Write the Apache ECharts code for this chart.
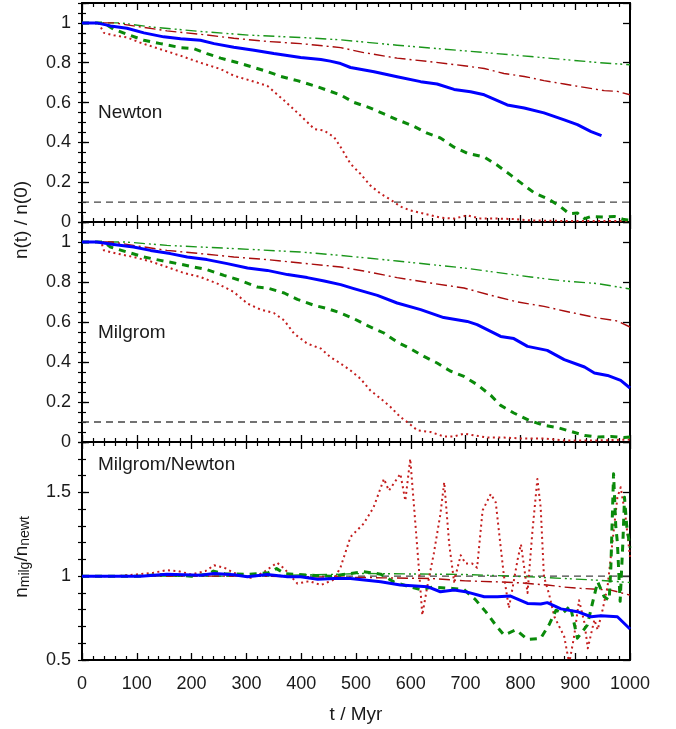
<!DOCTYPE html>
<html>
<head>
<meta charset="utf-8">
<script src="https://cdn.jsdelivr.net/npm/echarts@6/dist/echarts.min.js"></script>
<style>
html,body{margin:0;padding:0;background:#fff;}
#chart{width:676px;height:729px;}
</style>
</head>
<body>
<div id="chart"></div>
<script>
// ---------- Data (t in Myr, value) ----------
const xTicks = [0, 100, 200, 300, 400, 500, 600, 700, 800, 900, 1000];
const panelLabels = ['Newton', 'Milgrom', 'Milgrom/Newton'];
const refLevels = [0.1, 0.1, 1.0];

// Panel 1: Newton, n(t)/n(0)
const newtBlue = [[0,1],[27,1],[52,0.985],[82,0.973],[113,0.95],[149,0.93],[180,0.92],[216,0.913],[241,0.896],[277,0.878],[314,0.863],[350,0.846],[399,0.826],[436,0.816],[453,0.808],[472,0.796],[490,0.776],[533,0.755],[575,0.73],[618,0.705],[648,0.693],[679,0.666],[709,0.654],[734,0.639],[776,0.588],[807,0.573],[843,0.548],[880,0.513],[904,0.489],[929,0.454],[948,0.434]];
const newtGreenDash = [[0,1],[40,1],[58,0.968],[82,0.943],[113,0.913],[143,0.896],[180,0.876],[204,0.871],[228,0.846],[253,0.823],[283,0.801],[314,0.776],[338,0.756],[363,0.731],[393,0.71],[430,0.679],[472,0.638],[496,0.601],[523,0.576],[551,0.543],[575,0.514],[603,0.484],[630,0.446],[654,0.422],[679,0.376],[703,0.346],[734,0.326],[758,0.285],[783,0.234],[804,0.19],[825,0.147],[853,0.112],[874,0.075],[889,0.042],[904,0.045],[917,0.017],[929,0.028],[953,0.025],[971,0.028],[989,0.012],[1000,0.01]];
const newtRedDot = [[0,1],[30,1],[40,0.95],[58,0.938],[82,0.927],[107,0.9],[143,0.868],[180,0.835],[216,0.80],[253,0.768],[277,0.735],[308,0.71],[338,0.684],[369,0.61],[399,0.534],[424,0.467],[442,0.459],[460,0.426],[472,0.376],[490,0.292],[508,0.242],[526,0.184],[545,0.142],[563,0.112],[581,0.078],[599,0.058],[624,0.042],[654,0.022],[679,0.017],[703,0.033],[728,0.017],[758,0.017],[788,0.015],[819,0.008],[880,0.005],[941,0.005],[1000,0.005]];
const newtRedDashDot = [[0,1],[60,1],[94,0.985],[155,0.96],[216,0.943],[277,0.923],[338,0.907],[399,0.896],[472,0.876],[514,0.851],[575,0.823],[636,0.805],[697,0.785],[734,0.771],[770,0.746],[807,0.731],[843,0.71],[880,0.693],[917,0.676],[953,0.66],[977,0.656],[1000,0.639]];
const newtGreenDDD = [[0,1],[70,1],[125,0.98],[216,0.957],[308,0.938],[399,0.927],[472,0.915],[575,0.888],[697,0.86],[819,0.831],[941,0.801],[1000,0.79]];

// Panel 2: Milgrom, n(t)/n(0)
const milgBlue = [[0,1],[27,1],[58,0.988],[94,0.975],[125,0.958],[161,0.942],[192,0.925],[228,0.912],[265,0.892],[302,0.87],[338,0.858],[375,0.837],[411,0.822],[442,0.805],[472,0.787],[496,0.767],[539,0.733],[575,0.695],[618,0.662],[660,0.622],[703,0.603],[721,0.587],[764,0.528],[788,0.517],[813,0.478],[849,0.458],[880,0.412],[917,0.375],[935,0.345],[959,0.333],[983,0.308],[1000,0.27]];
const milgGreenDash = [[0,1],[40,1],[52,0.975],[82,0.95],[113,0.925],[143,0.908],[174,0.892],[204,0.875],[228,0.862],[259,0.833],[289,0.808],[320,0.775],[338,0.77],[369,0.745],[393,0.713],[424,0.683],[448,0.667],[472,0.645],[496,0.617],[520,0.583],[551,0.545],[575,0.5],[599,0.467],[624,0.428],[648,0.395],[672,0.355],[697,0.328],[721,0.287],[746,0.233],[764,0.183],[788,0.145],[816,0.108],[843,0.083],[868,0.072],[892,0.053],[917,0.033],[941,0.025],[965,0.028],[989,0.022],[1000,0.025]];
const milgRedDot = [[0,1],[35,1],[40,0.958],[64,0.942],[94,0.925],[125,0.903],[155,0.875],[186,0.845],[216,0.825],[247,0.792],[277,0.75],[302,0.692],[326,0.662],[350,0.645],[369,0.608],[387,0.542],[411,0.492],[436,0.467],[453,0.425],[472,0.392],[490,0.358],[508,0.317],[526,0.258],[545,0.217],[563,0.175],[581,0.125],[599,0.088],[612,0.058],[636,0.05],[660,0.028],[679,0.028],[697,0.042],[716,0.033],[740,0.022],[770,0.022],[807,0.017],[843,0.017],[880,0.008],[941,0.008],[1000,0.012]];
const milgRedDashDot = [[0,1],[55,1],[94,0.983],[155,0.958],[216,0.942],[277,0.925],[338,0.912],[399,0.895],[472,0.875],[514,0.855],[575,0.822],[636,0.795],[697,0.77],[758,0.725],[795,0.7],[843,0.678],[880,0.655],[941,0.62],[977,0.605],[1000,0.575]];
const milgGreenDDD = [[0,1],[80,1],[155,0.983],[277,0.967],[399,0.95],[472,0.933],[575,0.905],[697,0.87],[819,0.825],[880,0.805],[941,0.792],[1000,0.765]];

// Panel 3: ratio Milgrom/Newton
const ratioBlue = [[0,1],[107,1.0],[155,1.012],[216,1.006],[241,1.016],[277,1.008],[302,0.996],[338,1.01],[375,0.996],[399,0.996],[430,0.982],[460,0.986],[490,0.986],[545,0.966],[581,0.947],[630,0.937],[654,0.907],[679,0.917],[703,0.905],[734,0.877],[758,0.877],[782,0.881],[813,0.837],[837,0.834],[849,0.842],[874,0.805],[904,0.788],[929,0.758],[947,0.764],[977,0.758],[1000,0.685]];
const ratioGreenDash = [[0,1],[100,1.0],[150,1.01],[200,1.0],[230,1.012],[240,1.03],[260,1.015],[300,1.01],[340,1.02],[355,1.045],[370,1.015],[420,1.005],[453,1.0],[490,1.015],[514,1.026],[545,1.012],[569,0.966],[594,0.94],[618,0.92],[640,0.935],[676,0.927],[697,0.92],[718,0.86],[737,0.787],[755,0.708],[770,0.649],[792,0.68],[813,0.623],[837,0.629],[852,0.708],[865,0.797],[877,0.778],[891,0.823],[898,0.72],[904,0.63],[922,0.708],[935,0.887],[941,0.966],[953,0.877],[962,0.857],[965,1.046],[970,1.61],[974,1.3],[977,1.2],[982,0.85],[987,1.2],[990,1.47],[994,1.3],[1000,1.17]];
const ratioRedDot = [[0,1],[60,1.0],[100,1.01],[130,1.02],[155,1.036],[175,1.03],[200,1.01],[225,1.03],[241,1.065],[260,1.05],[277,1.02],[308,0.99],[330,1.02],[356,1.08],[369,1.045],[393,0.956],[415,0.97],[436,0.947],[460,0.98],[472,1.055],[490,1.234],[514,1.313],[532,1.41],[551,1.58],[560,1.51],[581,1.61],[590,1.45],[599,1.70],[606,1.41],[615,1.036],[621,0.768],[630,0.937],[642,1.135],[654,1.37],[661,1.56],[670,1.194],[679,0.966],[691,1.125],[700,1.075],[712,1.075],[721,1.05],[731,1.392],[746,1.49],[755,1.44],[764,1.174],[770,1.0],[779,0.81],[785,0.917],[795,1.1],[801,1.19],[807,1.05],[813,0.9],[822,1.27],[831,1.58],[837,1.41],[843,0.996],[852,0.897],[862,0.758],[880,0.64],[889,0.48],[898,0.64],[907,0.857],[917,0.72],[923,0.57],[935,0.74],[941,0.68],[950,0.8],[959,0.937],[977,1.47],[983,1.53],[992,1.35],[1000,1.115]];
const ratioRedDashDot = [[0,1],[300,1.0],[450,0.995],[550,0.99],[636,0.986],[700,0.972],[758,0.966],[800,0.96],[849,0.947],[880,0.935],[910,0.927],[965,0.917],[1000,0.887]];
const ratioGreenDDD = [[0,1],[300,1.0],[450,1.01],[514,1.016],[697,1.01],[819,0.996],[941,0.976],[1000,0.962]];

// ---------- Styles ----------
const FONT = 'Liberation Sans, Arial, sans-serif';
const TXT = '#1a1a1a';
const styles = {
  blue:     {color:'#0000ff', width:3, type:'solid'},
  greenDash:{color:'#0a8a0a', width:3, type:[7,6]},
  redDot:   {color:'#c41e1e', width:2, type:[2,3.4]},
  redDD:    {color:'#a80c0c', width:1.4, type:[11,4,2,4]},
  greenDDD: {color:'#1a961a', width:1.4, type:[11,4,2,3,2,4]}
};

const panels = [
  {min:0, max:1.1, major:0.2, minor:0.05, top:3, height:219,
   series:[['greenDDD',newtGreenDDD],['redDD',newtRedDashDot],['redDot',newtRedDot],['greenDash',newtGreenDash],['blue',newtBlue]]},
  {min:0, max:1.1, major:0.2, minor:0.05, top:222, height:220,
   series:[['greenDDD',milgGreenDDD],['redDD',milgRedDashDot],['redDot',milgRedDot],['greenDash',milgGreenDash],['blue',milgBlue]]},
  {min:0.5, max:1.8, major:0.5, minor:0.1, top:442, height:218,
   series:[['greenDDD',ratioGreenDDD],['redDD',ratioRedDashDot],['redDot',ratioRedDot],['greenDash',ratioGreenDash],['blue',ratioBlue]]}
];

const grids = [], xAxes = [], yAxes = [], series = [];
const lineAx = {show:true, onZero:false, lineStyle:{color:'#000', width:2}};

panels.forEach((p, g) => {
  grids.push({left:82, right:46, top:p.top, height:p.height, containLabel:false});
  ['bottom','top'].forEach(pos => {
    xAxes.push({
      gridIndex:g, type:'value', position:pos, min:0, max:1000, interval:100,
      axisLine:lineAx,
      axisTick:{show:true, inside:true, length:7, lineStyle:{color:'#000', width:1.3}},
      minorTick:{show:true, splitNumber:5, length:4, lineStyle:{color:'#000', width:1.2}},
      splitLine:{show:false},
      axisLabel:{show:(g===2 && pos==='bottom'), fontSize:18, fontFamily:FONT, color:TXT, margin:15, hideOverlap:false,
        formatter: v => String(v)}
    });
  });
  ['left','right'].forEach(pos => {
    // major ticks (+labels on left)
    yAxes.push({
      gridIndex:g, type:'value', position:pos, min:p.min, max:p.max, interval:p.major,
      axisLine:lineAx,
      axisTick:{show:true, inside:true, length:7, lineStyle:{color:'#000', width:1.3}},
      splitLine:{show:false},
      axisLabel:{show:pos==='left', fontSize:18, fontFamily:FONT, color:TXT, margin:11, hideOverlap:false,
        formatter: v => (Math.abs(v - p.max) < 1e-9 ? '' : String(Math.round(v*100)/100))}
    });
    // minor ticks
    yAxes.push({
      gridIndex:g, type:'value', position:pos, min:p.min, max:p.max, interval:p.minor,
      axisLine:{show:false},
      axisTick:{show:true, inside:true, length:4, lineStyle:{color:'#000', width:1.2}},
      splitLine:{show:false},
      axisLabel:{show:false}
    });
  });

  series.push({
    type:'line', xAxisIndex:2*g, yAxisIndex:4*g, data:[[0, refLevels[g]],[1000, refLevels[g]]],
    symbol:'none', silent:true, z:1,
    lineStyle:{color:'#444', width:1.3, type:[7,5]}
  });
  p.series.forEach(([key, data], k) => {
    const s = styles[key];
    series.push({
      type:'line', xAxisIndex:2*g, yAxisIndex:4*g, data:data,
      symbol:'none', showSymbol:false, silent:true, clip:true, z:2+k,
      lineStyle:{color:s.color, width:s.width, type:s.type, cap:'butt', join:'round'}
    });
  });
});

const txt = (text, x, y, extra) => Object.assign({
  type:'text', x:x, y:y, silent:true,
  style:Object.assign({text:text, fontSize:19, fontFamily:FONT, fill:TXT, align:'left', verticalAlign:'middle'}, extra || {})
});

const graphic = [
  txt(panelLabels[0], 98, 113),
  txt(panelLabels[1], 98, 333),
  txt(panelLabels[2], 98, 465),
  txt('t / Myr', 356, 715, {align:'center'}),
  Object.assign(txt('n(t) / n(0)', 22, 220, {align:'center'}), {rotation:Math.PI/2}),
  {
    type:'text', x:22, y:557, rotation:Math.PI/2, silent:true,
    style:{
      text:'{a|n}{s|milg}{a|/n}{s|newt}',
      align:'center', verticalAlign:'middle', fill:TXT, fontFamily:FONT, fontSize:19,
      rich:{
        a:{fontSize:19, fontFamily:FONT, fill:TXT, lineHeight:20, verticalAlign:'top', padding:[0,0,7,0]},
        s:{fontSize:14, fontFamily:FONT, fill:TXT, lineHeight:14, verticalAlign:'bottom'}
      }
    }
  }
];

const chart = echarts.init(document.getElementById('chart'), null, {renderer:'canvas'});
chart.setOption({
  animation:false,
  backgroundColor:'#fff',
  grid:grids, xAxis:xAxes, yAxis:yAxes, series:series, graphic:graphic
});
</script>
</body>
</html>
